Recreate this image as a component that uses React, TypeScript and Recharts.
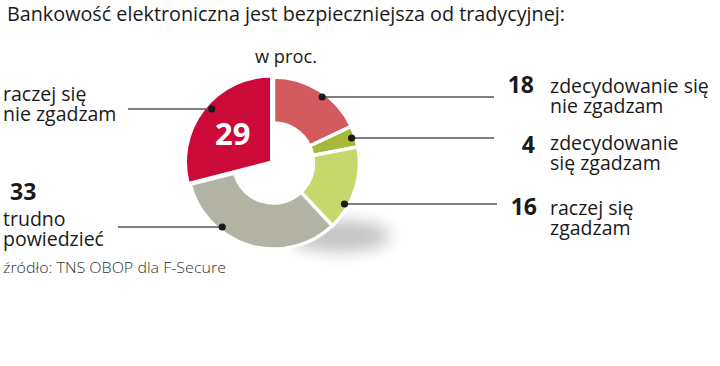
import { PieChart, Pie, Cell } from "recharts";

// dane z wykresu (w proc.)
const categories = [
  "zdecydowanie się nie zgadzam",
  "zdecydowanie się zgadzam",
  "raczej się zgadzam",
  "trudno powiedzieć",
  "raczej się nie zgadzam",
];
const values = [18, 4, 16, 33, 29];
const labelLines = [
  ["zdecydowanie się", "nie zgadzam"],
  ["zdecydowanie", "się zgadzam"],
  ["raczej się", "zgadzam"],
  ["trudno", "powiedzieć"],
  ["raczej się", "nie zgadzam"],
];

const title = "Bankowość elektroniczna jest bezpieczniejsza od tradycyjnej:";
const unit = "w proc.";
const source = "źródło: TNS OBOP dla F-Secure";

const colors = ["#d35a5d", "#a7b83b", "#c6d76c", "#b3b3a5", "#cc0a3a"];
const HIGHLIGHT = 4;

// układ opisów (pozycje tylko do rysowania)
const CX = 273.5;
const CY = 163;
const DOT_R = 82;
const FONT = "'Open Sans', 'Noto Sans', sans-serif";
const rows = [
  { side: 1, y: 97, lineTo: 494, numX: 534, numY: 93, textX: 550, textY: 93 },
  { side: 1, y: 138, lineTo: 494, numX: 535, numY: 153, textX: 550, textY: 150 },
  { side: 1, y: 204, lineTo: 497, numX: 537, numY: 215, textX: 550, textY: 215 },
  { side: -1, y: 227, lineTo: 118, numX: 10, numY: 200, textX: 3, textY: 226 },
  { side: -1, y: 109, lineTo: 128, numX: 0, numY: 0, textX: 3, textY: 101 },
];

const data = categories.map((name, i) => ({ name, value: values[i] }));

const renderLabel = (props: any) => {
  const { index, cx, cy, midAngle } = props;
  const r = rows[index];
  const dx = Math.sqrt(DOT_R * DOT_R - (r.y - cy) ** 2);
  const dotX = cx + r.side * dx;
  const lines = labelLines[index];
  const anchor = r.side > 0 ? "end" : "start";
  const rad = (midAngle * Math.PI) / 180;
  return (
    <g key={`lbl-${index}`}>
      <line x1={dotX} y1={r.y} x2={r.lineTo} y2={r.y} stroke="#555" strokeWidth={1.6} />
      <circle cx={dotX} cy={r.y} r={3.6} fill="#1a1a1a" />
      {index === HIGHLIGHT ? (
        <text
          x={cx + 49 * Math.cos(rad) - 2}
          y={cy - 49 * Math.sin(rad) + 12}
          textAnchor="middle"
          fontFamily={FONT}
          fontWeight={700}
          fontSize={31}
          fill="#fff"
        >
          {values[index]}
        </text>
      ) : (
        <text x={r.numX} y={r.numY} textAnchor={anchor} fontFamily={FONT} fontWeight={700} fontSize={23} fill="#1a1a1a">
          {values[index]}
        </text>
      )}
      {lines.map((t, j) => (
        <text key={j} x={r.textX} y={r.textY + j * 20} fontFamily={FONT} fontSize={19.5} fill="#1a1a1a">
          {t}
        </text>
      ))}
    </g>
  );
};

export default function App() {
  return (
    <div style={{ position: "absolute", left: 0, top: 0, width: 720, height: 366, background: "#fff" }}>
      <svg width={720} height={366} style={{ position: "absolute", left: 0, top: 0 }}>
        <defs>
          <filter id="shadow" x="-50%" y="-50%" width="200%" height="200%">
            <feGaussianBlur stdDeviation="8" />
          </filter>
        </defs>
        <ellipse cx={340} cy={236} rx={50} ry={16} fill="#8a8a8a" opacity={0.5} filter="url(#shadow)" />
      </svg>
      <div style={{ position: "absolute", left: 0, top: 0 }}>
        <PieChart width={720} height={366} margin={{ top: 0, right: 0, bottom: 0, left: 0 }}>
          <Pie
            data={data}
            dataKey="value"
            nameKey="name"
            cx={CX}
            cy={CY}
            innerRadius={40}
            outerRadius={86}
            startAngle={90}
            endAngle={-270}
            stroke="#fff"
            strokeWidth={3.5}
            label={renderLabel}
            labelLine={false}
            isAnimationActive={false}
          >
            {data.map((d, i) => (
              <Cell key={d.name} fill={i === HIGHLIGHT ? "transparent" : colors[i]} stroke={i === HIGHLIGHT ? "none" : "#fff"} />
            ))}
          </Pie>
          <Pie
            data={data}
            dataKey="value"
            nameKey="name"
            cx={CX - 2}
            cy={CY - 1}
            innerRadius={0}
            outerRadius={86}
            startAngle={90}
            endAngle={-270}
            strokeWidth={3}
            isAnimationActive={false}
          >
            {data.map((d, i) => (
              <Cell key={d.name} fill={i === HIGHLIGHT ? colors[i] : "transparent"} stroke={i === HIGHLIGHT ? "#fff" : "none"} />
            ))}
          </Pie>
        </PieChart>
      </div>
      <svg width={720} height={366} style={{ position: "absolute", left: 0, top: 0, pointerEvents: "none" }}>
        <text x={7} y={21} fontFamily={FONT} fontSize={20} fill="#1a1a1a" textLength={558} lengthAdjust="spacingAndGlyphs">
          {title}
        </text>
        <text x={255} y={63} fontFamily={FONT} fontSize={19} fill="#1a1a1a" textLength={62} lengthAdjust="spacingAndGlyphs">
          {unit}
        </text>
        <text x={3} y={273} fontFamily={FONT} fontSize={15} fill="#333" fontWeight={300} textLength={223} lengthAdjust="spacingAndGlyphs">
          {source}
        </text>
      </svg>
    </div>
  );
}
